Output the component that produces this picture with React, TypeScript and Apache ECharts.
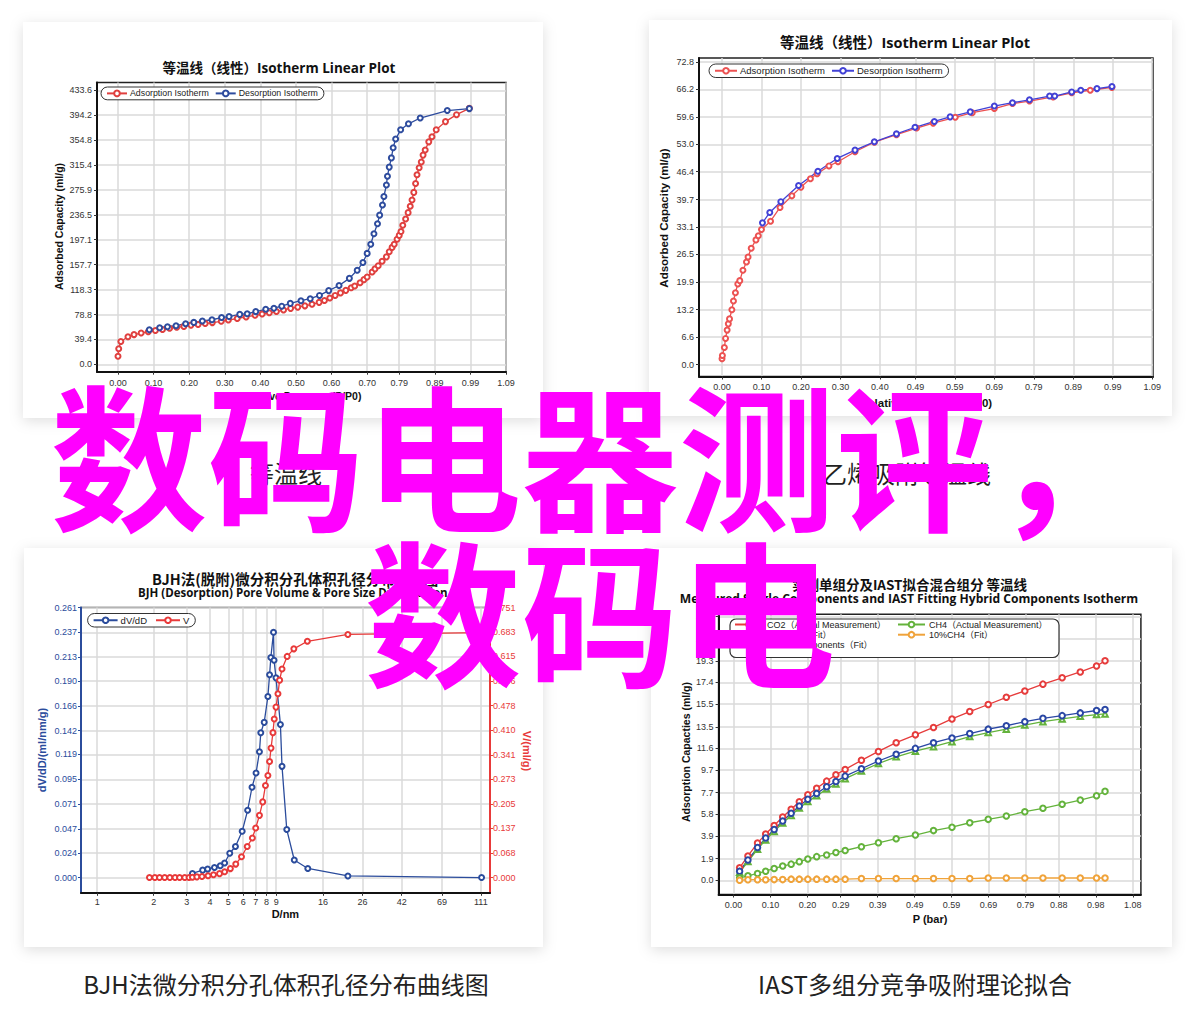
import React, { useEffect, useRef } from "react";
import * as echarts from "echarts";

// ---------- Chart 1 (top-left): Isotherm Linear Plot ----------
const c1XLabels = ["0.00", "0.10", "0.20", "0.30", "0.40", "0.50", "0.60", "0.70", "0.79", "0.89", "0.99", "1.09"];
const c1YLabels = ["0.0", "39.4", "78.8", "118.3", "157.7", "197.1", "236.5", "275.9", "315.4", "354.8", "394.2", "433.6"];
const c1AdsP = [0.000, 0.002, 0.008, 0.028, 0.045, 0.065, 0.085, 0.105, 0.125, 0.145, 0.165, 0.185, 0.205, 0.225, 0.245, 0.265, 0.29, 0.31, 0.335, 0.36, 0.385, 0.405, 0.425, 0.445, 0.465, 0.485, 0.505, 0.525, 0.545, 0.565, 0.58, 0.595, 0.61, 0.625, 0.64, 0.655, 0.665, 0.68, 0.691, 0.70, 0.714, 0.722, 0.731, 0.742, 0.754, 0.762, 0.770, 0.776, 0.784, 0.790, 0.795, 0.800, 0.808, 0.815, 0.821, 0.826, 0.831, 0.836, 0.840, 0.846, 0.852, 0.857, 0.863, 0.873, 0.882, 0.894, 0.920, 0.951, 0.987];
const c1AdsV = [12.8, 24.5, 36, 43.5, 47, 49.5, 51.5, 53.5, 55, 57, 58.5, 60, 62, 63, 64.5, 66, 68, 70, 72.5, 75, 77.5, 79.5, 81.5, 83.5, 86, 88.5, 90.5, 92.5, 95, 98, 101, 105, 109, 113, 117, 121, 124, 129, 134, 138, 146, 151, 156, 163, 170, 178, 185, 190, 198, 204, 210, 220, 230, 240, 250, 260, 272, 286, 300, 311, 320, 331, 339, 352, 360, 371, 384, 395, 405];
const c1DesP = [0.088, 0.117, 0.139, 0.163, 0.19, 0.213, 0.237, 0.264, 0.291, 0.312, 0.342, 0.363, 0.387, 0.415, 0.438, 0.46, 0.484, 0.514, 0.54, 0.566, 0.592, 0.621, 0.65, 0.672, 0.688, 0.70, 0.71, 0.719, 0.729, 0.735, 0.743, 0.747, 0.754, 0.757, 0.762, 0.768, 0.773, 0.78, 0.794, 0.816, 0.849, 0.925, 0.987];
const c1DesV = [54.6, 57.8, 59.4, 61, 64.2, 66.3, 68.5, 70.5, 74, 75.5, 79, 80, 83.4, 87, 88.8, 92, 96.4, 100.6, 103.8, 109, 116.6, 124.7, 136, 148.7, 161, 175.5, 190, 206.5, 222.5, 236, 252, 265.5, 283.7, 297.6, 312, 326.6, 342.6, 356.5, 371, 380.5, 389.7, 401.5, 404.6];

// ---------- Chart 2 (top-right) ----------
const c2XLabels = ["0.00", "0.10", "0.20", "0.30", "0.40", "0.49", "0.59", "0.69", "0.79", "0.89", "0.99", "1.09"];
const c2YLabels = ["0.0", "6.6", "13.2", "19.9", "26.5", "33.1", "39.7", "46.4", "53.0", "59.6", "66.2", "72.8"];
const c2AdsP = [0, 0.001, 0.006, 0.009, 0.013, 0.016, 0.019, 0.025, 0.029, 0.034, 0.04, 0.045, 0.053, 0.062, 0.066, 0.074, 0.086, 0.092, 0.10, 0.123, 0.147, 0.177, 0.2, 0.224, 0.241, 0.271, 0.294, 0.337, 0.386, 0.442, 0.493, 0.535, 0.591, 0.634, 0.69, 0.736, 0.779, 0.839, 0.886, 0.933, 0.988];
const c2AdsV = [1.4, 2.2, 4.1, 6.3, 8.3, 9.8, 11, 13.2, 15.3, 17.3, 19.4, 20.2, 22.7, 24.7, 25.9, 28, 30, 31, 32.5, 34.5, 37.8, 40.6, 42.7, 44.7, 45.9, 47.8, 48.8, 51.2, 53.5, 55.3, 56.9, 58.1, 59.5, 60.6, 61.6, 62.8, 63.4, 64.4, 65.4, 66, 66.7];
const c2DesP = [0.1025, 0.121, 0.149, 0.194, 0.243, 0.292, 0.337, 0.386, 0.442, 0.489, 0.538, 0.578, 0.629, 0.69, 0.736, 0.779, 0.83, 0.843, 0.886, 0.909, 0.95, 0.988];
const c2DesV = [34.1, 36.6, 39.2, 43.1, 46.5, 49.6, 51.6, 53.6, 55.5, 57.1, 58.5, 59.6, 60.8, 62.2, 63, 63.7, 64.6, 64.6, 65.6, 66, 66.4, 66.9];

// ---------- Chart 3 (bottom-left): BJH ----------
const c3XTicks = [1, 2, 3, 4, 5, 6, 7, 8, 9, 16, 26, 42, 69, 111];
const c3YLeftLabels = ["0.000", "0.024", "0.047", "0.071", "0.095", "0.119", "0.142", "0.166", "0.190", "0.213", "0.237", "0.261"];
const c3YRightLabels = ["0.000", "0.068", "0.137", "0.205", "0.273", "0.341", "0.410", "0.478", "0.546", "0.615", "0.683", "0.751"];
const c3DvdD = [3.22, 3.65, 3.88, 4.22, 4.53, 4.78, 5.09, 5.46, 5.93, 6.34, 6.69, 7.03, 7.33, 7.45, 7.77, 8.13, 8.3, 8.43, 8.71, 8.77, 8.98, 9.48, 9.67, 10.25, 11.24, 13.27, 21.7, 112];
const c3DvdV = [0.004, 0.0072, 0.0082, 0.0098, 0.0114, 0.0141, 0.0235, 0.030, 0.0447, 0.065, 0.0873, 0.101, 0.1216, 0.140, 0.15, 0.175, 0.196, 0.2127, 0.237, 0.21, 0.193, 0.148, 0.1075, 0.0464, 0.017, 0.0088, 0.0016, 0];
const c3VolD = [1.90, 2.03, 2.15, 2.29, 2.44, 2.60, 2.75, 2.93, 3.09, 3.22, 3.40, 3.62, 3.90, 4.17, 4.49, 4.78, 5.13, 5.48, 5.88, 6.31, 6.72, 7.00, 7.33, 7.63, 7.89, 8.13, 8.3, 8.45, 8.65, 8.79, 8.98, 9.2, 9.39, 9.67, 10.3, 11.18, 13.2, 21.7, 112];
const c3VolV = [0, 0, 0, 0, 0, 0, 0, 0, 0, 0.001, 0.002, 0.003, 0.005, 0.008, 0.011, 0.016, 0.025, 0.0375, 0.058, 0.0865, 0.110, 0.138, 0.173, 0.2105, 0.256, 0.284, 0.323, 0.36, 0.403, 0.441, 0.474, 0.511, 0.549, 0.58, 0.615, 0.636, 0.657, 0.676, 0.681];

// ---------- Chart 4 (bottom-right): IAST ----------
const c4XLabels = ["0.00", "0.10", "0.20", "0.29", "0.39", "0.49", "0.59", "0.69", "0.79", "0.88", "0.98", "1.08"];
const c4YLabels = ["0.0", "1.9", "3.9", "5.8", "7.7", "9.7", "11.6", "13.5", "15.5", "17.4", "19.3", "21.2", "23.2"];
const c4P = [0.0165, 0.039, 0.065, 0.087, 0.11, 0.133, 0.156, 0.178, 0.201, 0.225, 0.252, 0.277, 0.302, 0.346, 0.392, 0.44, 0.492, 0.541, 0.591, 0.639, 0.689, 0.738, 0.788, 0.837, 0.889, 0.938, 0.982, 1.005];
const c4CO2 = [1.1, 2.14, 3.27, 4.07, 4.82, 5.56, 6.24, 6.9, 7.52, 8.09, 8.72, 9.28, 9.75, 10.55, 11.33, 12.1, 12.79, 13.44, 14.19, 14.84, 15.46, 16.09, 16.65, 17.25, 17.81, 18.32, 18.85, 19.3];
const c4Mixed = [0.8, 1.79, 2.88, 3.72, 4.46, 5.21, 5.89, 6.54, 7.13, 7.64, 8.23, 8.68, 9.16, 9.81, 10.49, 11.09, 11.6, 12.1, 12.52, 12.9, 13.29, 13.59, 13.95, 14.24, 14.48, 14.72, 14.93, 15.01];
const c4CO2Fit = [0.7, 1.65, 2.72, 3.55, 4.3, 5.03, 5.7, 6.35, 6.92, 7.43, 8.02, 8.47, 8.94, 9.6, 10.27, 10.86, 11.35, 11.75, 12.19, 12.64, 12.99, 13.29, 13.65, 13.95, 14.19, 14.42, 14.57, 14.63];
const c4CH4 = [0.21, 0.39, 0.6, 0.8, 1.04, 1.25, 1.42, 1.64, 1.87, 2.08, 2.23, 2.44, 2.62, 2.95, 3.3, 3.66, 3.98, 4.37, 4.67, 5.06, 5.36, 5.65, 6.03, 6.33, 6.69, 7.05, 7.43, 7.82];
const c4CH4Fit = [0, 0.05, 0.05, 0.05, 0.06, 0.06, 0.1, 0.1, 0.1, 0.1, 0.1, 0.1, 0.1, 0.15, 0.15, 0.15, 0.15, 0.15, 0.15, 0.15, 0.2, 0.2, 0.2, 0.2, 0.2, 0.2, 0.2, 0.2];

const FONT = '"Liberation Sans", Arial, "Noto Sans CJK SC", sans-serif';
const TITLE_FONT = '"Open Sans", "Noto Sans CJK SC", sans-serif';
const CJK = '"Noto Sans CJK SC", sans-serif';

const fmt = (labels: string[]) => (v: number) => {
  const f = labels.find((l) => Math.abs(parseFloat(l) - v) < 1e-6);
  return f ?? "";
};

function linAxis(o: any) {
  const vals = o.labels.map((l: string) => parseFloat(l));
  return {
    type: "value",
    gridIndex: o.gridIndex,
    min: o.min,
    max: o.max,
    position: o.position,
    axisLine: { show: true, onZero: false, lineStyle: { color: o.lineColor ?? "#111", width: o.lineWidth ?? 2 } },
    axisTick: { show: true, customValues: vals, length: 3, lineStyle: { color: o.lineColor ?? "#333", width: 1 } },
    axisLabel: {
      show: true,
      customValues: vals,
      formatter: fmt(o.labels),
      margin: o.margin ?? 5,
      fontSize: o.fontSize ?? 9,
      color: o.color ?? "#333",
      fontFamily: FONT,
    },
    splitLine: { show: o.split ?? true, lineStyle: { color: "#dadada", width: 1.5 } },
  };
}

function line(name: string, xi: number, yi: number, xs: number[], ys: number[], color: string, symbol = "emptyCircle", size = 5) {
  return {
    type: "line",
    name,
    xAxisIndex: xi,
    yAxisIndex: yi,
    data: xs.map((x, i) => [x, ys[i]]),
    symbol,
    symbolSize: size,
    showSymbol: true,
    lineStyle: { color, width: 1.3 },
    itemStyle: { color, borderColor: color, borderWidth: 1.2 },
    emphasis: { disabled: true },
    silent: true,
    z: 3,
  };
}

const C1R = "#e0403f", C1B = "#2e4c9e";
const C2R = "#ec5252", C2B = "#4242d6";
const C3B = "#2b4c9c", C3R = "#e83a3a";
const C4R = "#e63c3c", C4B = "#2a47a4", C4G = "#64b33c", C4O = "#f0a33a";

function txt(text: string, x: number, y: number, size: number, opts: any = {}) {
  return {
    type: "text",
    x,
    y,
    rotation: opts.rotation ?? 0,
    z: opts.z ?? 5,
    style: {
      text,
      align: opts.align ?? "center",
      verticalAlign: "middle",
      fontSize: size,
      fontWeight: opts.weight ?? "bold",
      fontFamily: opts.family ?? FONT,
      fill: opts.fill ?? "#111",
    },
  };
}

function card(x: number, y: number, w: number, h: number) {
  return {
    type: "rect",
    z: -10,
    shape: { x, y, width: w, height: h },
    style: { fill: "#fff", shadowBlur: 14, shadowColor: "rgba(0,0,0,0.13)", shadowOffsetY: 3 },
  };
}

function legendBase(left: number, top: number, fontSize: number) {
  return {
    left,
    top,
    orient: "horizontal",
    padding: [2, 6, 2, 5],
    itemWidth: 20,
    itemHeight: 7,
    itemGap: 6,
    borderColor: "#333",
    borderWidth: 1,
    borderRadius: 7,
    backgroundColor: "#fff",
    selectedMode: false,
    textStyle: { fontSize, fontFamily: FONT, color: "#222", padding: [0, 0, 0, -2] },
  };
}

export default function App() {
  const ref = useRef<HTMLDivElement>(null);
  useEffect(() => {
    const chart = echarts.init(ref.current!, null, { renderer: "svg" });
    const gridCommon = { show: true, borderColor: "#222", borderWidth: 1.5, containLabel: false, outerBoundsMode: "none" };
    const option: any = {
      animation: false,
      backgroundColor: "#fff",
      grid: [
        { ...gridCommon, left: 97, top: 82.5, width: 409, height: 289.2 },
        { ...gridCommon, left: 699, top: 58, width: 454, height: 318.5 },
        { ...gridCommon, left: 81, top: 607.5, width: 409, height: 285.3, borderColor: "#444" },
        { ...gridCommon, left: 718.6, top: 614.2, width: 422.3, height: 280.3 },
      ],
      xAxis: [
        linAxis({ gridIndex: 0, min: -0.059, max: 1.09, labels: c1XLabels, margin: 7 }),
        linAxis({ gridIndex: 1, min: -0.0583, max: 1.092, labels: c2XLabels, margin: 6 }),
        {
          type: "log",
          gridIndex: 2,
          logBase: 10,
          min: 0.82,
          max: 124.2,
          axisLine: { show: true, onZero: false, lineStyle: { color: "#111", width: 2 } },
          axisTick: { show: true, customValues: c3XTicks, length: 3, lineStyle: { color: "#333" } },
          axisLabel: {
            customValues: c3XTicks,
            formatter: (v: number) => String(Math.round(v)),
            margin: 5,
            fontSize: 9,
            color: "#333",
            fontFamily: FONT,
          },
          splitLine: { show: true, lineStyle: { color: "#dadada", width: 1.5 } },
          minorTick: { show: false },
          minorSplitLine: { show: false },
        },
        linAxis({ gridIndex: 3, min: -0.0403, max: 1.102, labels: c4XLabels, margin: 6 }),
      ],
      yAxis: [
        linAxis({ gridIndex: 0, min: -11.7, max: 445.9, labels: c1YLabels }),
        linAxis({ gridIndex: 1, min: -2.86, max: 73.76, labels: c2YLabels, margin: 5 }),
        linAxis({ gridIndex: 2, min: -0.0147, max: 0.261, labels: c3YLeftLabels, lineColor: C3B, color: C3B, margin: 4 }),
        linAxis({ gridIndex: 2, min: -0.0423, max: 0.751, labels: c3YRightLabels, lineColor: C3R, color: C3R, position: "right", split: false, margin: 3 }),
        linAxis({ gridIndex: 3, min: -1.25, max: 23.4, labels: c4YLabels, margin: 5 }),
      ],
      legend: [
        { ...legendBase(101, 87, 8.8), data: ["Adsorption Isotherm", "Desorption Isotherm"] },
        {
          ...legendBase(709, 64, 9.5),
          itemWidth: 22,
          data: [
            { name: "Adsorption Isotherm", itemStyle: { color: C2R, borderColor: C2R }, lineStyle: { color: C2R } },
            { name: "Desorption Isotherm", itemStyle: { color: C2B, borderColor: C2B }, lineStyle: { color: C2B } },
          ],
        },
        { ...legendBase(87.6, 613.5, 9.5), itemWidth: 24, itemGap: 8, data: ["dV/dD", "V"] },
        {
          left: 734,
          top: 620,
          orient: "vertical",
          padding: 0,
          itemWidth: 28,
          itemHeight: 7,
          itemGap: 1.2,
          selectedMode: false,
          textStyle: { fontSize: 9, fontFamily: FONT, color: "#222", padding: [0, 0, 0, -1] },
          data: ["CO2（Actual Measurement）", "90%CO2（Fit）", "Mixed Components（Fit）"],
        },
        {
          left: 897,
          top: 620,
          orient: "vertical",
          padding: 0,
          itemWidth: 27,
          itemHeight: 7,
          itemGap: 1.2,
          selectedMode: false,
          textStyle: { fontSize: 9, fontFamily: FONT, color: "#222", padding: [0, 0, 0, -1] },
          data: ["CH4（Actual Measurement）", "10%CH4（Fit）"],
        },
      ],
      series: [
        line("Adsorption Isotherm", 0, 0, c1AdsP, c1AdsV, C1R),
        line("Desorption Isotherm", 0, 0, c1DesP, c1DesV, C1B),
        line("Adsorption Isotherm", 1, 1, c2AdsP, c2AdsV, C2R),
        line("Desorption Isotherm", 1, 1, c2DesP, c2DesV, C2B),
        line("dV/dD", 2, 2, c3DvdD, c3DvdV, C3B),
        line("V", 2, 3, c3VolD, c3VolV, C3R),
        line("CO2（Actual Measurement）", 3, 4, c4P, c4CO2, C4R, "emptyCircle", 5.5),
        line("90%CO2（Fit）", 3, 4, c4P, c4CO2Fit, C4G, "emptyTriangle", 5.5),
        line("Mixed Components（Fit）", 3, 4, c4P, c4Mixed, C4B, "emptyCircle", 5.5),
        line("CH4（Actual Measurement）", 3, 4, c4P, c4CH4, C4G, "emptyCircle", 5.5),
        line("10%CH4（Fit）", 3, 4, c4P, c4CH4Fit, C4O, "emptyCircle", 5.5),
      ],
      graphic: {
        elements: [
          card(23, 22, 520, 396),
          card(649, 20, 523, 396),
          card(24, 548, 519, 399),
          card(651, 548, 521, 399),
          // titles
          txt("等温线（线性）Isotherm Linear Plot", 279, 68, 13.5, { family: TITLE_FONT }),
          txt("等温线（线性）Isotherm Linear Plot", 905, 42, 14.5, { family: TITLE_FONT }),
          txt("BJH法(脱附)微分积分孔体积孔径分布曲线图", 152, 578.7, 14.5, { family: CJK, align: "left" }),
          txt("BJH (Desorption) Pore Volume & Pore Size Distribution", 138, 592.5, 11.5, { family: TITLE_FONT, align: "left" }),
          txt("实测单组分及IAST拟合混合组分 等温线", 909.5, 583.8, 13.5, { family: CJK }),
          txt("Measured Single Components and IAST Fitting Hybrid Components Isotherm", 909, 598.5, 12.1, { family: TITLE_FONT }),
          // axis names
          txt("Adsorbed Capacity (ml/g)", 59, 226.5, 10.5, { rotation: Math.PI / 2 }),
          txt("Relative Pressure (P/P0)", 301, 396, 10.5),
          txt("Adsorbed Capacity (ml/g)", 663.6, 218, 11.5, { rotation: Math.PI / 2 }),
          txt("Relative Pressure (P/P0)", 926, 402.8, 11.5),
          txt("dV/dD/(ml/nm/g)", 42, 750, 11, { rotation: Math.PI / 2, fill: C3B }),
          txt("V/(ml/g)", 527, 751, 11, { rotation: -Math.PI / 2, fill: C3R }),
          txt("D/nm", 285.4, 914, 11),
          txt("Adsorption Capacties (ml/g)", 685.5, 752, 10.5, { rotation: Math.PI / 2 }),
          txt("P (bar)", 930, 919, 11),
          // chart 4 legend frame
          {
            type: "rect",
            z: 3,
            shape: { x: 730, y: 619, width: 329, height: 38.5, r: 6 },
            style: { fill: "#fff", stroke: "#333", lineWidth: 1.2 },
          },
          // captions
          txt("等温线", 286, 472, 24, { family: CJK, weight: "normal", fill: "#222" }),
          txt("乙烯吸附等温线", 907, 472, 24, { family: CJK, weight: "normal", fill: "#222" }),
          txt("BJH法微分积分孔体积孔径分布曲线图", 286, 983, 24, { family: CJK, weight: "normal", fill: "#222" }),
          txt("IAST多组分竞争吸附理论拟合", 915, 983, 24, { family: CJK, weight: "normal", fill: "#222" }),
          // overlay headline
          txt("数码电器测评，", 600, 450, 157, { family: CJK, fill: "#ff00ff", z: 100 }),
          txt("数码电", 600, 606, 157, { family: CJK, fill: "#ff00ff", z: 100 }),
        ],
      },
    };
    chart.setOption(option);
    return () => chart.dispose();
  }, []);
  return (
    <div
      ref={ref}
      style={{ position: "absolute", left: 0, top: 0, width: 1200, height: 1032, background: "#fff" }}
    />
  );
}
